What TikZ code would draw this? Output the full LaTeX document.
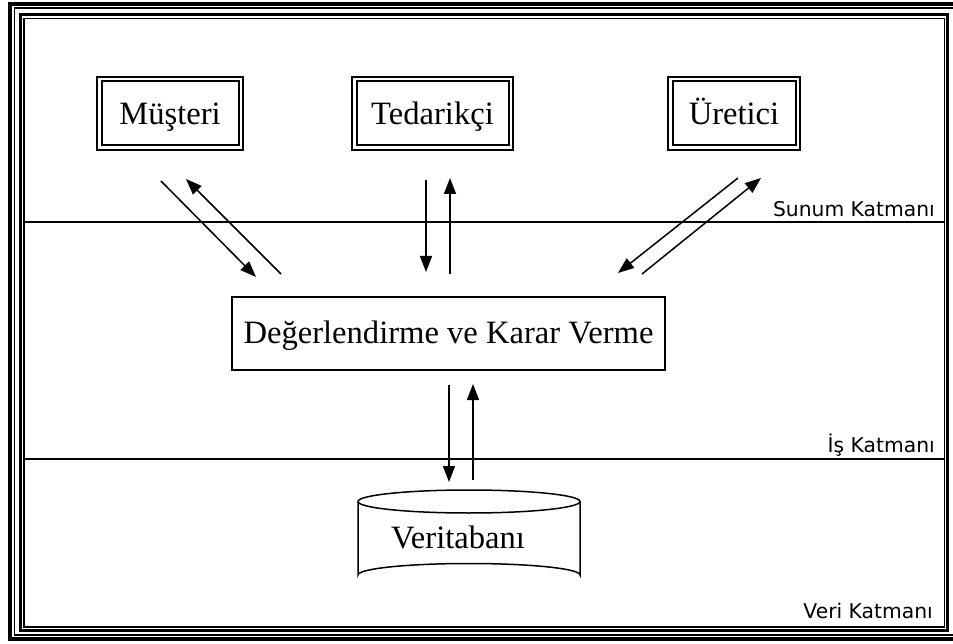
\documentclass[tikz,border=0pt]{standalone}
\usepackage{fontspec}
\setmainfont{Liberation Serif}
\newfontfamily\layerfont{DejaVu Sans}
\usetikzlibrary{arrows.meta}
\begin{document}
\begin{tikzpicture}[x=1pt,y=-1pt,
  actor/.style={draw, line width=2pt, double distance=2.5pt, inner sep=0pt,
    text height=23pt, text depth=0pt,
    font=\fontsize{32.6}{36}\selectfont},
  mainbox/.style={draw, line width=2.7pt, inner sep=0pt,
    text height=19pt, text depth=0pt,
    font=\fontsize{32.6}{36}\selectfont},
  flow/.style={line width=1.5pt, -{Triangle[length=16pt,width=12pt]}},
  layerline/.style={line width=2pt},
  layerlbl/.style={font=\layerfont\fontsize{20.3}{23}\selectfont, inner sep=0pt, anchor=base east},
  dbtext/.style={font=\fontsize{32.6}{36}\selectfont, inner sep=0pt}
]
\useasboundingbox (0,0) rectangle (953,644);
\clip (0,0) rectangle (953,644);

% page frame: two thick-thin borders
\draw[line width=3.6pt] (10.2,4.3) rectangle (962,638.7);
\draw[line width=1.6pt] (14.5,8.2) rectangle (958,635.2);
\draw[line width=3pt] (20.3,15) rectangle (947.8,630.3);
\draw[line width=1.6pt] (23.7,18.5) rectangle (944.5,627);

% layer separators
\draw[layerline] (23.7,222) -- (944.5,222);
\draw[layerline] (23.7,459) -- (944.5,459);
\node[layerlbl] (lsunum) at (935,216.5) {Sunum Katmanı};
\node[layerlbl] (lis) at (935,452) {İş Katmanı};
\node[layerlbl] (lveri) at (933,618) {Veri Katmanı};

% presentation layer actors
\node[actor, minimum width=141.5pt, minimum height=68.5pt] (mus) at (170,113.5) {Müşteri};
\node[actor, minimum width=156.5pt, minimum height=68.5pt] (ted) at (432.5,113.5) {Tedarikçi};
\node[actor, minimum width=127.5pt, minimum height=68.5pt] (ure) at (734,113.5) {Üretici};

% business layer
\node[mainbox, minimum width=433pt, minimum height=73pt] (karar) at (448.5,333.5) {Değerlendirme ve Karar Verme};

% data layer: database cylinder
\coordinate (db) at (469,501.5);
\draw[line width=1.5pt] (358,501.5) -- (358,575) arc[start angle=180, end angle=360, x radius=111, y radius=11.5] -- (580,501.5);
\draw[line width=1.5pt] (db) ellipse[x radius=111, y radius=11.5];
\node[dbtext, anchor=base] (vt) at (458,548) {Veritabanı};

% connector end points
\coordinate (m1s) at (161,181); \coordinate (m1e) at (256,277);
\coordinate (m2s) at (281,274); \coordinate (m2e) at (186,179);
\coordinate (t1s) at (426,180); \coordinate (t1e) at (426,272);
\coordinate (t2s) at (450,274); \coordinate (t2e) at (450,178);
\coordinate (u1s) at (738,178); \coordinate (u1e) at (618,273);
\coordinate (u2s) at (642,274); \coordinate (u2e) at (761,178);
\coordinate (k1s) at (449,385); \coordinate (k1e) at (449,482);
\coordinate (k2s) at (473,480); \coordinate (k2e) at (473,384);

\draw[flow] (m1s) -- (m1e);
\draw[flow] (m2s) -- (m2e);
\draw[flow] (t1s) -- (t1e);
\draw[flow] (t2s) -- (t2e);
\draw[flow] (u1s) -- (u1e);
\draw[flow] (u2s) -- (u2e);
\draw[flow] (k1s) -- (k1e);
\draw[flow] (k2s) -- (k2e);
\end{tikzpicture}
\end{document}
